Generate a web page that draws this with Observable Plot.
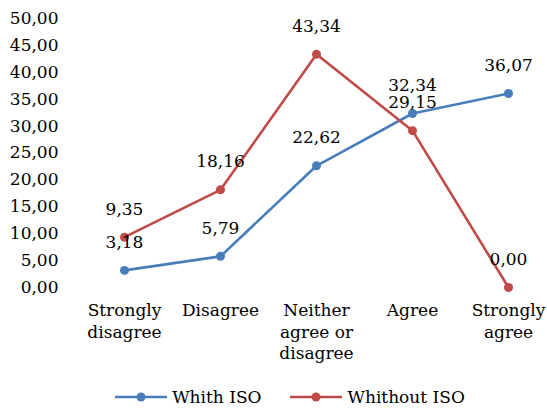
<!DOCTYPE html>
<html>
<head>
<meta charset="utf-8">
<script src="https://cdn.jsdelivr.net/npm/d3@7"></script>
<script src="https://cdn.jsdelivr.net/npm/@observablehq/plot@0.6"></script>
<style>
  body { margin: 0; background: #fff; font-family: "DejaVu Serif", serif; }
  #legend { display: flex; justify-content: center; align-items: center; gap: 28px; font-size: 17px; color: #000; margin-top: 22px; padding-left: 32px; }
  #legend span { display: inline-flex; align-items: center; gap: 4px; }
</style>
</head>
<body>
<div id="chart"></div>
<div id="legend"></div>
<script>
const categories = ["Strongly\ndisagree", "Disagree", "Neither\nagree or\ndisagree", "Agree", "Strongly\nagree"];
const seriesNames = ["Whith ISO", "Whithout ISO"];
const withISO = [3.18, 5.79, 22.62, 32.34, 36.07];
const withoutISO = [9.35, 18.16, 43.34, 29.15, 0.00];
const yTicks = [0, 5, 10, 15, 20, 25, 30, 35, 40, 45, 50];
const colors = ["#4A7EBB", "#BE4B48"];

const fmt = v => v.toFixed(2).replace(".", ",");
const data = [];
[withISO, withoutISO].forEach((arr, s) => arr.forEach((v, i) => data.push({cat: categories[i], value: v, series: seriesNames[s]})));

const plot = Plot.plot({
  width: 547,
  height: 365,
  marginLeft: 123,
  marginRight: 39,
  marginTop: 18,
  marginBottom: 78,
  style: {fontFamily: "DejaVu Serif, serif", fontSize: "17px", color: "#000", background: "#fff"},
  x: {type: "point", domain: categories, padding: 0, label: null},
  y: {domain: [0, 50], label: null},
  color: {domain: seriesNames, range: colors},
  marks: [
    Plot.axisY({ticks: yTicks, tickSize: 0, tickPadding: 65, tickFormat: fmt, fontSize: 17, label: null}),
    Plot.axisX({tickSize: 0, tickPadding: 13, lineHeight: 1.28, fontSize: 17, label: null}),
    Plot.line(data, {x: "cat", y: "value", stroke: "series", strokeWidth: 2.6}),
    Plot.dot(data, {x: "cat", y: "value", fill: "series", r: 4.5}),
    Plot.text(data, {x: "cat", y: "value", text: d => fmt(d.value), dy: -28, fontSize: 17, fill: "#000"})
  ]
});
document.getElementById("chart").appendChild(plot);

const legend = document.getElementById("legend");
seriesNames.forEach((name, i) => {
  const span = document.createElement("span");
  span.innerHTML = `<svg width="54" height="12"><line x1="1" x2="53" y1="6" y2="6" stroke="${colors[i]}" stroke-width="2.6"/><circle cx="27" cy="6" r="4.5" fill="${colors[i]}"/></svg>${name}`;
  legend.appendChild(span);
});
</script>
</body>
</html>
